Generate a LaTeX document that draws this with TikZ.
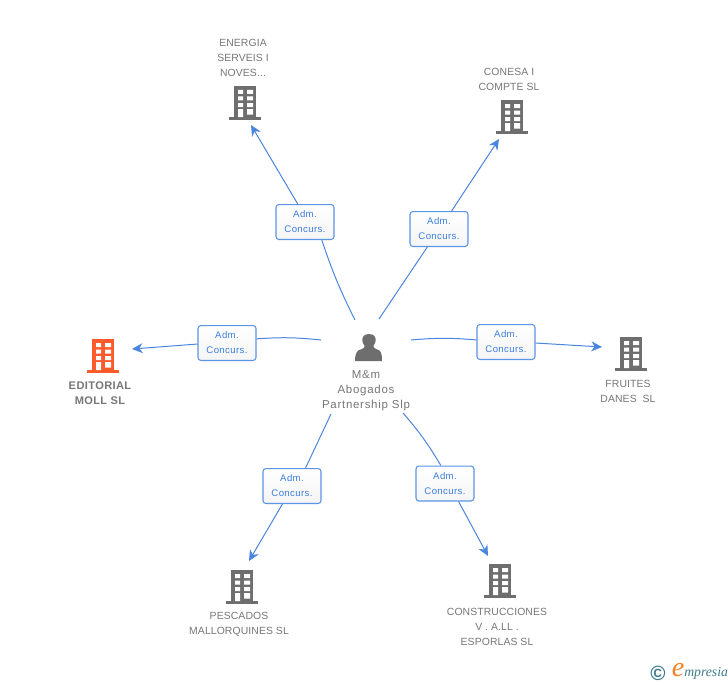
\documentclass[tikz,border=0pt]{standalone}
\usepackage{fontspec}
\setmainfont{Liberation Sans}
\usetikzlibrary{arrows.meta}
\definecolor{txtgray}{HTML}{777777}
\definecolor{icongray}{HTML}{6E6E6E}
\definecolor{iconred}{HTML}{FF5A2C}
\definecolor{linkblue}{HTML}{4A86E0}
\definecolor{boxblue}{HTML}{5C94E6}
\definecolor{lblblue}{HTML}{3B7DDD}
\definecolor{teal1}{HTML}{3F7C8C}
\definecolor{orange1}{HTML}{F58220}
\newfontface\spaced[LetterSpace=1]{Liberation Sans}
\newfontface\spacedw[LetterSpace=6.4]{Liberation Sans}
\newfontface\spacedbox[LetterSpace=4]{Liberation Sans}
\newfontface\spacedb[LetterSpace=3.5]{Liberation Sans Bold}
\tikzset{
  x=0.75pt,y=-0.75pt,
  conn/.style={draw=linkblue,line width=0.75pt},
  arrowed/.style={conn,-{Stealth[length=8pt,width=7.5pt,inset=2.5pt]}},
  relbox/.style={draw=boxblue,line width=0.8pt,rounded corners=2.2pt,top color=white,bottom color=black!4,
    minimum width=43.5pt,minimum height=26.2pt,inner sep=0pt,align=center,text=lblblue,
    font=\spacedbox\fontsize{7.2}{11.2}\selectfont},
  lbl/.style={text=txtgray,align=center,inner sep=0pt,font=\spaced\fontsize{7.8}{11.25}\selectfont},
  lblw/.style={lbl,font=\spacedw\fontsize{8.6}{11.25}\selectfont},
  lblb/.style={text=txtgray,align=center,inner sep=0pt,font=\spacedb\fontsize{8.3}{11.25}\selectfont},
}
% icon: building, #1 node name, #2 centre x, #3 bottom y, #4 colour
\newcommand{\buildingicon}[4]{%
  \coordinate (#1) at (#2,#3-17);
  \begin{scope}[shift={(#2,#3)}]
    \fill[#4] (-16,-3) rectangle (16,0);
    \fill[#4] (-11.3,-3) rectangle (11.3,-34);
    \fill[white] (-7,-30) rectangle (-2,-26) (2,-30) rectangle (8,-26)
                 (-7,-23.5) rectangle (-2,-19.5) (2,-23.5) rectangle (8,-19.5)
                 (-7,-17) rectangle (-2,-13) (2,-17) rectangle (8,-13)
                 (-7,-11) rectangle (-2,-3) (2,-11) rectangle (8,-5.5);
  \end{scope}}
\begin{document}
\begin{tikzpicture}
\useasboundingbox[fill=white] (0,0) rectangle (728,685);

% free ends of the connectors
\coordinate (hubN) at (355,320);
\coordinate (hubNE) at (379,319);
\coordinate (hubE) at (411,340);
\coordinate (hubW) at (321,340);
\coordinate (hubSW) at (331,414);
\coordinate (hubSE) at (403,413);
\coordinate (tipN) at (251,125);
\coordinate (tipNE) at (499,139);
\coordinate (tipE) at (602,347);
\coordinate (tipW) at (132,349);
\coordinate (tipSW) at (249,561);
\coordinate (tipSE) at (488,556);

% icons
\buildingicon{energia}{245}{120}{icongray}
\buildingicon{conesa}{512}{134}{icongray}
\buildingicon{editorial}{103}{373}{iconred}
\buildingicon{fruites}{631}{371}{icongray}
\buildingicon{pescados}{242}{604}{icongray}
\buildingicon{construcc}{500}{598}{icongray}
\coordinate (person) at (369,347);
\fill[icongray] (355,361) .. controls (355,353) and (357,350) .. (362,349)
  .. controls (364,348) and (365,347) .. (364.5,345.5)
  .. controls (362,343) and (362,339) .. (363,337)
  .. controls (364,333) and (374,333) .. (375,337)
  .. controls (376,339) and (376,343) .. (373.5,345.5)
  .. controls (373,347) and (374,348) .. (376,349)
  .. controls (381,350) and (382,353) .. (382,361) -- cycle;

% labels
\node[lbl] (lblEnergia) at (243,58) {ENERGIA\\SERVEIS I\\NOVES...};
\node[lbl] (lblConesa) at (509,79.5) {CONESA I\\COMPTE SL};
\node[lblb] (lblEditorial) at (100,393) {EDITORIAL\\MOLL SL};
\node[lbl] (lblFruites) at (628,391.5) {FRUITES\\DANES\ \ SL};
\node[lbl] (lblPescados) at (239,624) {PESCADOS\\MALLORQUINES SL};
\node[lbl] (lblConstr) at (497,627) {CONSTRUCCIONES\\V . A.LL .\\ESPORLAS SL};
\node[lblw] (lblPerson) at (366,391) {M\&m\\Abogados\\Partnership Slp};

% relation boxes
\node[relbox] (boxN) at (305,222) {Adm.\\Concurs.};
\node[relbox] (boxNE) at (439,229) {Adm.\\Concurs.};
\node[relbox] (boxE) at (506,342) {Adm.\\Concurs.};
\node[relbox] (boxW) at (227,343) {Adm.\\Concurs.};
\node[relbox] (boxSW) at (292,486) {Adm.\\Concurs.};
\node[relbox] (boxSE) at (445,483.5) {Adm.\\Concurs.};

% connectors
\draw[conn] (hubN) to[bend left=4] (boxN.-47);
\draw[arrowed] (boxN.112) -- (tipN);
\draw[conn] (hubNE) -- (boxNE.237);
\draw[arrowed] (boxNE.55) -- (tipNE);
\draw[conn] (hubE) to[bend left=5] (boxE.176);
\draw[arrowed] (boxE.-2) -- (tipE);
\draw[conn] (hubW) to[bend right=5] (boxW.8);
\draw[arrowed] (boxW.182) -- (tipW);
\draw[conn] (hubSW) -- (boxSW.53);
\draw[arrowed] (boxSW.242) -- (tipSW);
\draw[conn] (hubSE) to[bend left=5] (boxSE.103);
\draw[arrowed] (boxSE.-53) -- (tipSE);

% logo
\node[text=teal1,inner sep=0pt,font={\fontspec{Liberation Sans Bold}\fontsize{15.5}{15.5}\selectfont}] (logoC) at (658,673) {©};
\node[text=orange1,inner sep=0pt,font={\fontspec{Liberation Serif Italic}\fontsize{21}{21}\selectfont}] (logoE) at (678,670) {e};
\node[text=teal1,inner sep=0pt,anchor=west,font={\fontspec{Liberation Serif Italic}\fontsize{10.3}{10.3}\selectfont}] (logoT) at (684,673) {mpresia};
\end{tikzpicture}
\end{document}
